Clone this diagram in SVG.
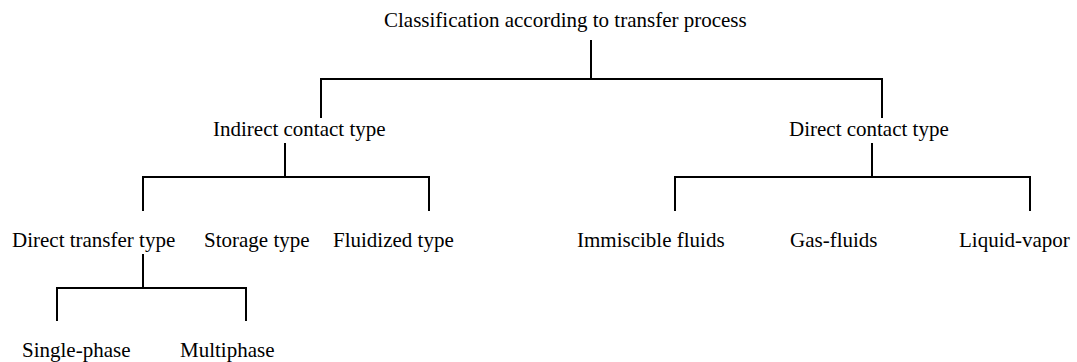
<svg xmlns="http://www.w3.org/2000/svg" width="1077" height="362" viewBox="0 0 1077 362">
<style>
text{font-family:"Liberation Serif","Times New Roman",serif;font-size:21px;fill:#000}
.c{fill:none;stroke:#000;stroke-width:2}
</style>
<rect width="1077" height="362" fill="#fff"/>
<g id="connectors">
<path class="c" d="M591,40V79M321,118V79H882V118"/>
<path class="c" d="M285,143V177M143,211V177H429V211"/>
<path class="c" d="M872,143V177M675,211V177H1030V211"/>
<path class="c" d="M143,254V288M57,321V288H246V321"/>
</g>
<g id="root"><text x="384" y="27">Classification according to transfer process</text></g>
<g id="indirect"><text x="213" y="136">Indirect contact type</text></g>
<g id="direct"><text x="789" y="136">Direct contact type</text></g>
<g id="direct-transfer"><text x="12" y="247">Direct transfer type</text></g>
<g id="storage"><text x="204" y="247">Storage type</text></g>
<g id="fluidized"><text x="333" y="247">Fluidized type</text></g>
<g id="immiscible"><text x="577" y="247">Immiscible fluids</text></g>
<g id="gas-fluids"><text x="790" y="247">Gas-fluids</text></g>
<g id="liquid-vapor"><text x="959" y="247">Liquid-vapor</text></g>
<g id="single-phase"><text x="22" y="357">Single-phase</text></g>
<g id="multiphase"><text x="180" y="357">Multiphase</text></g>
</svg>
